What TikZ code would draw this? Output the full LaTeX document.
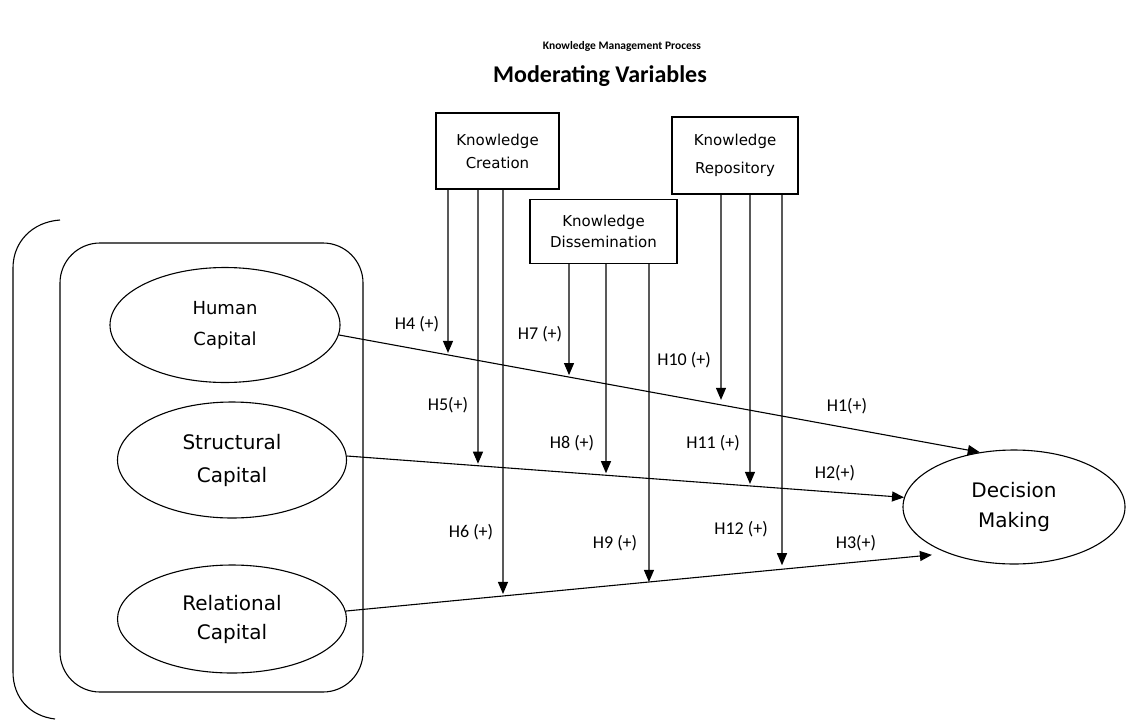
\documentclass[tikz,border=0pt]{standalone}
\usepackage{fontspec}
\setmainfont{DejaVu Sans}
\newfontfamily\carl{Carlito}
\usetikzlibrary{shapes.geometric,arrows.meta}
\newcommand\modarr[5]{%
  \path (#2,720) coordinate (mb) (#1.south -| mb) coordinate (mt);
  \draw[arr, shorten >=#5] (mt) -- (intersection of #3--#4 and mt--mb);
}
\begin{document}
\begin{tikzpicture}[x=1pt,y=-1pt,
  line width=1.1pt,
  arr/.style={-{Triangle[length=12pt,width=10pt]}},
  oval/.style={draw, ellipse, inner sep=0pt, align=center},
  kbox/.style={draw, rectangle, inner sep=0pt, align=center, font=\fontsize{15}{23}\selectfont},
  hlab/.style={font=\carl\fontsize{18}{20}\selectfont, inner sep=0pt},
]
\useasboundingbox (0,0) rectangle (1129,720);
\fill[white] (0,0) rectangle (1129,720);

% titles
\node[font=\carl\bfseries\fontsize{11.5}{14}\selectfont] (t1) at (622,46) {Knowledge Management Process};
\node[font=\carl\bfseries\fontsize{24}{28}\selectfont] (t2) at (600,76) {Moderating Variables};

% bracket
\draw (60,220) .. controls (32,222) and (13,242) .. (13,268) -- (13,672) .. controls (13,698) and (30,716) .. (55,719);

% group
\node[draw, rounded corners=40pt, minimum width=303pt, minimum height=449pt, inner sep=0pt] (grp) at (211.5,467.5) {};

% ellipses
\node[oval, minimum width=230pt, minimum height=115pt, font=\fontsize{18}{31}\selectfont] (human) at (225,325) {Human\\Capital};
\node[oval, minimum width=229pt, minimum height=116pt, font=\fontsize{20}{33}\selectfont] (struct) at (232,460) {Structural\\Capital};
\node[oval, minimum width=229pt, minimum height=108pt, font=\fontsize{20}{29}\selectfont] (rel) at (232,619) {Relational\\Capital};
\node[oval, minimum width=222pt, minimum height=114pt, font=\fontsize{20}{30}\selectfont] (dec) at (1014,507) {Decision\\Making};

% moderator boxes
\node[kbox, minimum width=123pt, minimum height=76pt] (kc) at (497.5,151) {Knowledge\\Creation};
\node[kbox, minimum width=147pt, minimum height=64pt, font=\fontsize{15}{21}\selectfont] (kd) at (603.5,231.5) {Knowledge\\Dissemination};
\node[kbox, minimum width=126pt, minimum height=77pt, font=\fontsize{15}{28}\selectfont] (kr) at (735,155.5) {Knowledge\\Repository};

% main paths
\path (human.-5) coordinate (a1) (dec.122) coordinate (b1);
\path (struct.2) coordinate (a2) (dec.175) coordinate (b2);
\path (rel.4) coordinate (a3) (dec.215) coordinate (b3);
\draw[arr] (human.-5) -- (dec.122);
\draw[arr] (struct.2) -- (dec.175);
\draw[arr, shorten >=16pt] (rel.4) -- (dec.215);

% moderating arrows
\modarr{kc}{448}{a1}{b1}{2pt}
\modarr{kc}{478}{a2}{b2}{2pt}
\modarr{kc}{503}{a3}{b3}{2pt}
\modarr{kd}{569}{a1}{b1}{2pt}
\modarr{kd}{606}{a2}{b2}{2pt}
\modarr{kd}{649}{a3}{b3}{0pt}
\modarr{kr}{721}{a1}{b1}{5pt}
\modarr{kr}{750}{a2}{b2}{2pt}
\modarr{kr}{782}{a3}{b3}{4pt}

% labels
\node[hlab] (l4) at (417,324) {H4 (+)};
\node[hlab] (l5) at (448,405) {H5(+)};
\node[hlab] (l6) at (471,532) {H6 (+)};
\node[hlab] (l7) at (540,334) {H7 (+)};
\node[hlab] (l8) at (572,443) {H8 (+)};
\node[hlab] (l9) at (615,543) {H9 (+)};
\node[hlab] (l10) at (684,360) {H10 (+)};
\node[hlab] (l11) at (713,443) {H11 (+)};
\node[hlab] (l12) at (741,529) {H12 (+)};
\node[hlab] (l1) at (847,406) {H1(+)};
\node[hlab] (l2) at (835,473) {H2(+)};
\node[hlab] (l3) at (856,543) {H3(+)};
\end{tikzpicture}
\end{document}
